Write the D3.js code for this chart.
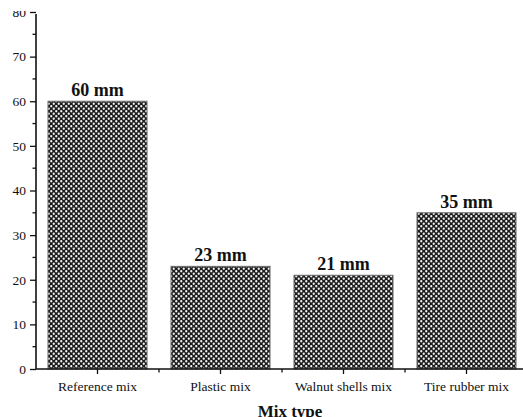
<!DOCTYPE html>
<html>
<head>
<meta charset="utf-8">
<script src="https://cdn.jsdelivr.net/npm/d3@7"></script>
<style>
  html, body { margin: 0; padding: 0; background: #fff; }
  svg { display: block; }
  text { font-family: "Liberation Serif", "Times New Roman", serif; fill: #111; }
</style>
</head>
<body>
<svg id="chart" width="523" height="417"></svg>
<script>
// Flow (spread) per mix, in mm
const categories = ["Reference mix", "Plastic mix", "Walnut shells mix", "Tire rubber mix"];
const flowValues = [60, 23, 21, 35];
const valueLabels = ["60 mm", "23 mm", "21 mm", "35 mm"];
const yTicks = [0, 10, 20, 30, 40, 50, 60, 70, 80];

const svg = d3.select("#chart");
const W = 523, H = 417;
const x0 = 36, yBase = 369, yTop = 12;

const x = d3.scaleBand().domain(categories).range([x0, x0 + 4 * 123]).paddingInner(0.195).paddingOuter(0.0975);
const y = d3.scaleLinear().domain([0, 80]).range([yBase, yTop]);

// crosshatch fill
const defs = svg.append("defs");
const P = 5;
const pat = defs.append("pattern")
  .attr("id", "hatch").attr("patternUnits", "userSpaceOnUse")
  .attr("width", P).attr("height", P);
pat.append("rect").attr("width", P).attr("height", P).attr("fill", "#1c1c1c");
pat.append("circle").attr("cx", P / 4).attr("cy", P / 4).attr("r", 1.15).attr("fill", "#f2f2f2");
pat.append("circle").attr("cx", 3 * P / 4).attr("cy", 3 * P / 4).attr("r", 1.15).attr("fill", "#f2f2f2");

// plot area clipped at the top edge
defs.append("clipPath").attr("id", "topcut")
  .append("rect").attr("x", 0).attr("y", 11).attr("width", W).attr("height", H);
const g = svg.append("g").attr("clip-path", "url(#topcut)");

// bars
g.selectAll("rect.bar").data(categories).join("rect")
  .attr("class", "bar")
  .attr("x", d => x(d))
  .attr("y", (d, i) => y(flowValues[i]))
  .attr("width", x.bandwidth())
  .attr("height", (d, i) => yBase - y(flowValues[i]))
  .attr("fill", "url(#hatch)")
  .attr("stroke", "#666").attr("stroke-width", 1);

// value labels
g.selectAll("text.val").data(categories).join("text")
  .attr("class", "val")
  .attr("x", d => x(d) + x.bandwidth() / 2)
  .attr("y", (d, i) => y(flowValues[i]) - 5)
  .attr("text-anchor", "middle")
  .attr("font-size", 18).attr("font-weight", "bold")
  .text((d, i) => valueLabels[i]);

// y axis
const yAxis = d3.axisLeft(y).tickValues(yTicks).tickSize(6).tickPadding(4);
const gy = g.append("g").attr("transform", `translate(${x0},0)`).call(yAxis);
gy.select(".domain").remove();
gy.selectAll("text").attr("font-size", 13.5);
gy.selectAll("line").attr("stroke", "#111").attr("stroke-width", 1.3);
// minor y ticks
g.append("g").selectAll("line").data(d3.range(5, 80, 10)).join("line")
  .attr("x1", x0 - 3.5).attr("x2", x0)
  .attr("y1", d => y(d)).attr("y2", d => y(d))
  .attr("stroke", "#111").attr("stroke-width", 1.3);
g.append("line").attr("x1", x0).attr("x2", x0).attr("y1", 14).attr("y2", yBase)
  .attr("stroke", "#111").attr("stroke-width", 1.6);

// x axis
const xAxis = d3.axisBottom(x).tickSize(5).tickPadding(7);
const gx = g.append("g").attr("transform", `translate(0,${yBase})`).call(xAxis);
gx.select(".domain").remove();
gx.selectAll("text").attr("font-size", 13.5);
gx.selectAll("line").attr("stroke", "#111").attr("stroke-width", 1.3);
// minor ticks between categories
g.append("g").selectAll("line").data(categories.slice(1)).join("line")
  .attr("x1", d => x(d) - x.step() * x.paddingInner() / 2)
  .attr("x2", d => x(d) - x.step() * x.paddingInner() / 2)
  .attr("y1", yBase).attr("y2", yBase + 3.5)
  .attr("stroke", "#111").attr("stroke-width", 1.3);
g.append("line").attr("x1", x0).attr("x2", W).attr("y1", yBase).attr("y2", yBase)
  .attr("stroke", "#111").attr("stroke-width", 1.6);

// axis title
g.append("text")
  .attr("x", 290).attr("y", 417)
  .attr("text-anchor", "middle")
  .attr("font-size", 17).attr("font-weight", "bold")
  .text("Mix type");
</script>
</body>
</html>
